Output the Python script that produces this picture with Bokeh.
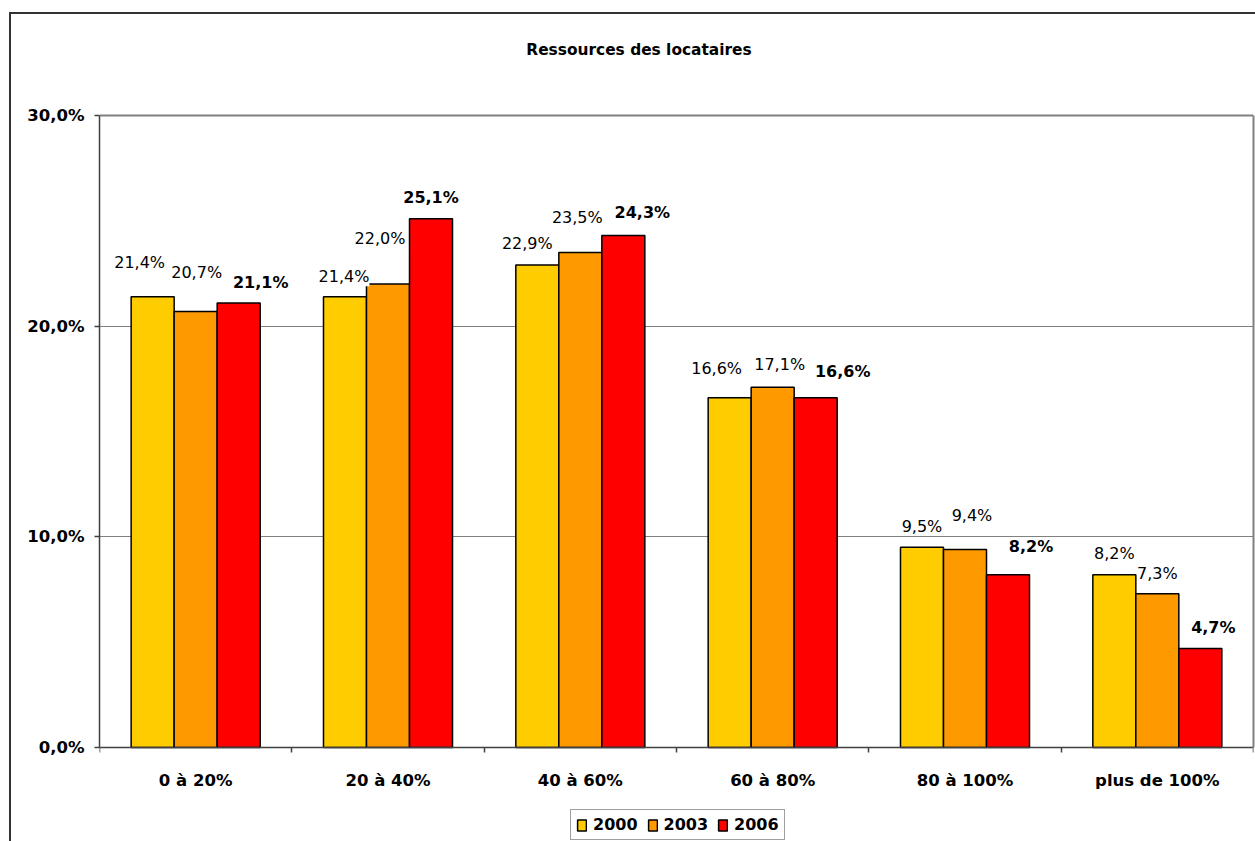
from bokeh.plotting import figure
from bokeh.models import (ColumnDataSource, Range1d, FixedTicker, LabelSet, Label,
                          Legend, LegendItem, LinearAxis, Grid)
from bokeh.core.properties import value
from bokeh.transform import dodge
from bokeh.embed import file_html
from bokeh.resources import INLINE

# ---- data ----
categories = ["0 à 20%", "20 à 40%", "40 à 60%", "60 à 80%", "80 à 100%", "plus de 100%"]
series_names = ["2000", "2003", "2006"]
values_2000 = [21.4, 21.4, 22.9, 16.6, 9.5, 8.2]
values_2003 = [20.7, 22.0, 23.5, 17.1, 9.4, 7.3]
values_2006 = [21.1, 25.1, 24.3, 16.6, 8.2, 4.7]
y_ticks = [0, 10, 20, 30]
title_text = "Ressources des locataires"

# ---- style / layout ----
W, H = 1255, 841
TOP_PX, ZERO_PX = 115, 747          # pixel rows of the 30% line and of the 0% axis
Y_MAX_TICK = y_ticks[-1]
ppu = (ZERO_PX - TOP_PX) / Y_MAX_TICK
y_start = -(H - ZERO_PX) / ppu
y_end = Y_MAX_TICK + TOP_PX / ppu

colors = ["#FFCC00", "#FF9900", "#FF0000"]
bar_w = 0.2236
offsets = [-bar_w, 0.0, bar_w]
# label pixel offsets (as placed in the original chart)
label_dx = [[-13, -1, -10, -13, 0, 0],
            [1, -8, -3, 7, 7, 0],
            [22, 0, 19, 27, 23, 13]]
label_dy = [[34, 20, 22, 29, 21, 21],
            [39, 46, 35, 23, 34, 20],
            [20, 21, 23, 26, 28, 21]]
label_styles = ["normal", "normal", "bold"]
FONT = "DejaVu Sans"

outer_border_css = ("linear-gradient(#333333,#333333) 9px 12px / 2px 900px no-repeat, "
                    "linear-gradient(#333333,#333333) 9px 12px / 1300px 2px no-repeat, white")

p = figure(width=W, height=H, output_backend="svg", toolbar_location=None,
           x_range=Range1d(0, len(categories)), y_range=Range1d(y_start, y_end),
           min_border_left=99, min_border_right=2, min_border_top=0, min_border_bottom=0,
           styles={"background": outer_border_css})
p.background_fill_color = "white"
p.background_fill_alpha = 0
p.border_fill_color = None
p.outline_line_color = None

xs = [i + 0.5 for i in range(len(categories))]
all_values = [values_2000, values_2003, values_2006]

# grid
p.xgrid.visible = False
p.ygrid.ticker = FixedTicker(ticks=y_ticks[:-1])
p.ygrid.grid_line_color = "#808080"
p.ygrid.grid_line_width = 1
# top border of the plot area (grey, at the 30% line)
p.add_layout(Grid(dimension=1, ticker=FixedTicker(ticks=[Y_MAX_TICK]),
                  grid_line_color="#808080", grid_line_width=2))

items = []
for k, (name, vals) in enumerate(zip(series_names, all_values)):
    src = ColumnDataSource(dict(
        x=xs, y=vals,
        txt=[f"{v:.1f}".replace(".", ",") + "%" for v in vals],
        dx=label_dx[k], dy=label_dy[k],
    ))
    r = p.vbar(x=dodge("x", offsets[k], range=p.x_range), top="y", bottom=0, width=bar_w,
               source=src, fill_color=colors[k], line_color="black", line_width=1.5)
    items.append(LegendItem(label=name, renderers=[r]))
    labels = LabelSet(x=dodge("x", offsets[k], range=p.x_range), y="y", text="txt",
                      x_offset="dx", y_offset="dy", source=src,
                      text_align="center", text_baseline="middle",
                      text_font=value(FONT), text_font_size=value("16px"),
                      text_font_style=value(label_styles[k]),
                      text_color="black", background_fill_color="white")
    p.add_layout(labels)

# x axis, fixed at the 0 line inside the frame
p.xaxis.fixed_location = 0
p.xaxis.ticker = FixedTicker(ticks=xs, minor_ticks=list(range(len(categories) + 1)))
p.xaxis.major_label_overrides = {x: c for x, c in zip(xs, categories)}
p.xaxis.major_tick_out = 0
p.xaxis.major_tick_in = 0
p.xaxis.minor_tick_out = 5
p.xaxis.minor_tick_in = 0
p.xaxis.minor_tick_line_color = "#404040"
p.xaxis.minor_tick_line_width = 1.5
p.xaxis.major_label_standoff = 18

p.yaxis.bounds = (0, Y_MAX_TICK)
p.yaxis.ticker = FixedTicker(ticks=y_ticks)
p.yaxis.major_label_overrides = {t: f"{t:.1f}".replace(".", ",") + "%" for t in y_ticks}
p.yaxis.major_tick_out = 5
p.yaxis.major_tick_in = 0
p.yaxis.minor_tick_line_color = None
p.yaxis.major_tick_line_color = "#404040"
p.yaxis.major_tick_line_width = 1.5
p.yaxis.major_label_standoff = 10

for ax in (p.xaxis, p.yaxis):
    ax.axis_line_color = "#404040"
    ax.axis_line_width = 1.5
    ax.major_label_text_font = FONT
    ax.major_label_text_font_size = "16.5px"
    ax.major_label_text_font_style = "bold"
    ax.major_label_text_color = "black"

# right border of the plot area (grey line from 0 to 30)
right_ax = LinearAxis(ticker=FixedTicker(ticks=[]), bounds=(0, Y_MAX_TICK),
                      axis_line_color="#808080", axis_line_width=2,
                      major_tick_out=0, major_tick_in=0, minor_tick_out=0, minor_tick_in=0,
                      major_label_standoff=0, major_label_text_font_size="0px")
p.add_layout(right_ax, "right")

# title
p.add_layout(Label(x=len(categories) / 2, y=Y_MAX_TICK, x_offset=-37.5, y_offset=66,
                   text=title_text, text_align="center", text_baseline="alphabetic",
                   text_font=FONT, text_font_size="15.4px", text_font_style="bold",
                   text_color="black"))

legend = Legend(items=items, orientation="horizontal", location=(471, 1),
                glyph_width=11, glyph_height=14, label_standoff=6, spacing=9,
                padding=5, margin=0, label_height=19,
                label_text_font=FONT, label_text_font_size="16px",
                label_text_font_style="bold", label_text_color="black",
                border_line_color="#404040", border_line_width=1.5,
                background_fill_color="white", background_fill_alpha=1)
p.add_layout(legend, "center")

open("out.html", "w").write(file_html(p, INLINE))
